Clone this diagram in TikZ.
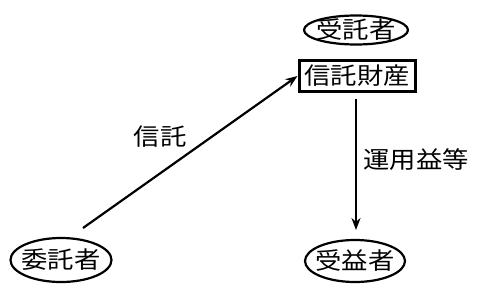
\documentclass[tikz,border=0pt]{standalone}
\usepackage{fontspec}
\setmainfont{Noto Sans CJK JP}[FakeStretch=1.12]
\usetikzlibrary{shapes.geometric,arrows.meta}
\begin{document}
\begin{tikzpicture}[x=1pt,y=-1pt,
  lbl/.style={font=\fontsize{23.5}{23.5}\selectfont, inner sep=0pt},
  oval/.style={lbl, ellipse, draw, line width=2.2pt, inner xsep=-15pt, inner ysep=-8pt},
  box/.style={lbl, draw, line width=3pt, inner xsep=3pt, inner ysep=3pt},
  arr/.style={line width=2.2pt, -{Stealth[length=12pt,width=9pt]}}]
\useasboundingbox (0,0) rectangle (481,289);
\node[oval, minimum width=104pt, minimum height=29pt] (trustee) at (356,30) {受託者};
\node[box, minimum width=116pt, minimum height=31pt] (prop) at (357,76) {信託財産};
\node[oval, minimum width=101pt, minimum height=44pt] (settlor) at (61,260) {委託者};
\node[oval, minimum width=100pt, minimum height=42pt] (benef) at (355,261) {受益者};
\coordinate (a1) at (83,228);
\draw[arr] (a1) -- (prop.west);
\draw[arr] (prop.south -| 356,0) ++(0,6) -- (356,230);
\node[lbl] (l1) at (160,137) {信託};
\node[lbl] (l2) at (416,160) {運用益等};
\end{tikzpicture}
\end{document}
